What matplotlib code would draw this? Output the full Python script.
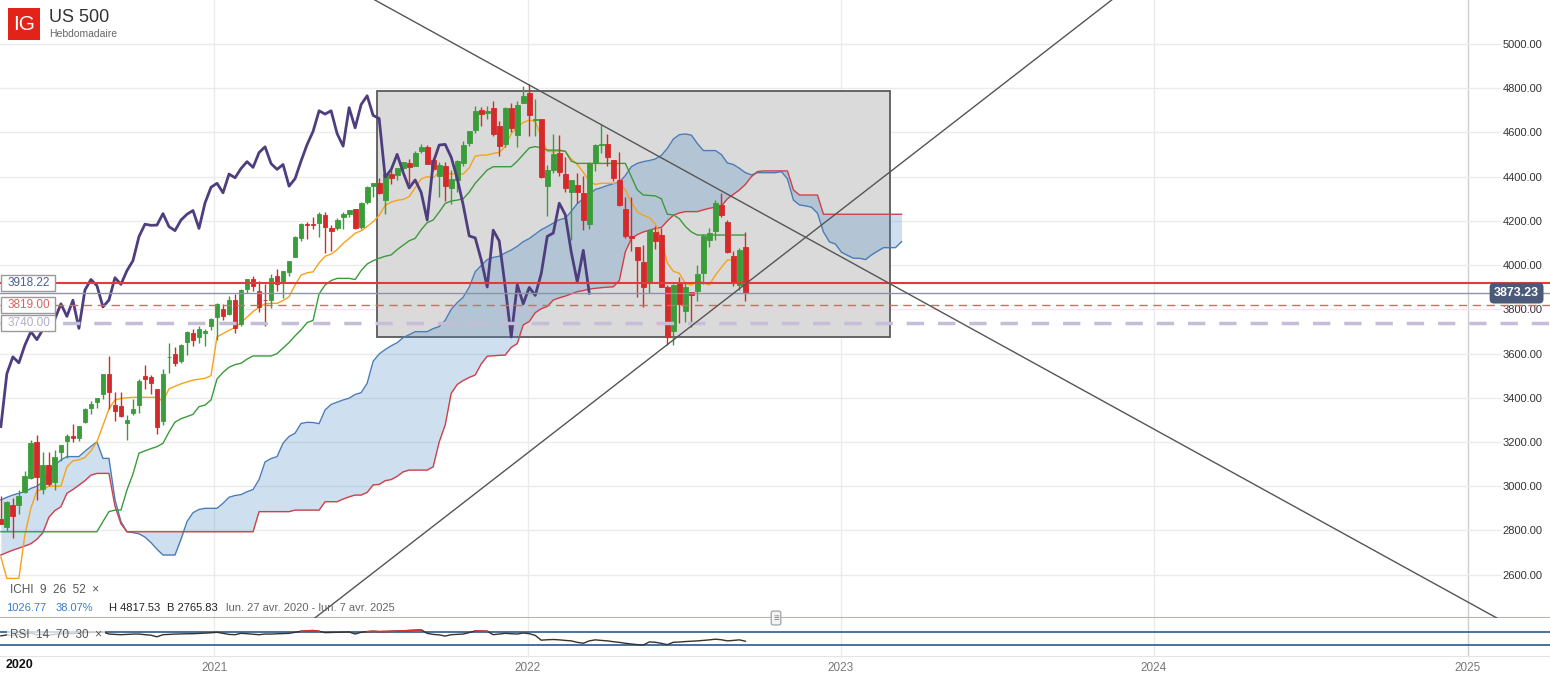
import numpy as np
import pandas as pd
import matplotlib
matplotlib.use("Agg")
import matplotlib.pyplot as plt
import matplotlib.dates as mdates
import matplotlib.transforms as mtransforms
from matplotlib.patches import Rectangle
from datetime import datetime

plt.rcParams['font.family'] = ['Liberation Sans', 'DejaVu Sans']

# weekly candles US 500, from lun. 27 avr. 2020 to lun. 12 sept. 2022
opens = [2854, 2815, 2915, 2914, 2972, 3038, 3199, 2986, 3094, 3018,
         3155, 3205, 3225, 3219, 3289, 3356, 3380, 3419, 3509, 3369,
         3364, 3285, 3333, 3366, 3500, 3493, 3441, 3296, 3583, 3600,
         3566, 3653, 3694, 3675, 3694, 3723, 3764, 3803, 3781, 3842,
         3732, 3893, 3939, 3885, 3843, 3844, 3949, 3917, 3969, 4035,
         4124, 4184, 4186, 4191, 4228, 4170, 4170, 4217, 4229, 4255,
         4174, 4285, 4356, 4372, 4296, 4410, 4406, 4438, 4462, 4450,
         4514, 4535, 4474, 4402, 4449, 4348, 4385, 4463, 4553, 4610,
         4701, 4689, 4712, 4628, 4548, 4710, 4588, 4733, 4778, 4655,
         4660, 4357, 4432, 4505, 4412, 4332, 4363, 4328, 4188, 4462,
         4541, 4547, 4474, 4385, 4256, 4130, 4081, 4013, 3920, 4152,
         4135, 3900, 3704, 3921, 3792, 3880, 3883, 3966, 4112, 4155,
         4270, 4195, 4041, 3909, 4083]
highs = [2954, 2934, 2945, 2981, 3068, 3211, 3233, 3155, 3155, 3165,
         3185, 3235, 3280, 3272, 3352, 3387, 3399, 3509, 3588, 3425,
         3428, 3320, 3393, 3485, 3550, 3502, 3441, 3530, 3646, 3629,
         3644, 3702, 3712, 3726, 3712, 3760, 3827, 3823, 3860, 3870,
         3894, 3935, 3950, 3928, 3915, 3960, 3983, 3975, 4020, 4130,
         4191, 4194, 4218, 4238, 4238, 4183, 4214, 4238, 4250, 4255,
         4286, 4356, 4372, 4394, 4415, 4430, 4441, 4468, 4480, 4514,
         4546, 4545, 4486, 4466, 4466, 4429, 4475, 4560, 4608, 4718,
         4714, 4718, 4744, 4652, 4713, 4731, 4741, 4808, 4819, 4749,
         4660, 4453, 4595, 4590, 4490, 4385, 4416, 4402, 4465, 4546,
         4637, 4593, 4474, 4513, 4308, 4308, 4082, 4090, 4160, 4178,
         4168, 3910, 3914, 3946, 3918, 3880, 3999, 4140, 4167, 4293,
         4325, 4203, 4062, 4077, 4152]
lows = [2830, 2798, 2766, 2876, 2969, 3032, 2936, 2966, 2999, 2985,
        3115, 3128, 3200, 3204, 3284, 3328, 3354, 3396, 3349, 3293,
        3313, 3209, 3323, 3329, 3441, 3418, 3234, 3279, 3512, 3543,
        3559, 3595, 3633, 3648, 3636, 3707, 3663, 3750, 3775, 3694,
        3726, 3874, 3884, 3789, 3723, 3805, 3885, 3853, 3950, 4035,
        4110, 4118, 4164, 4128, 4057, 4062, 4157, 4165, 4218, 4165,
        4165, 4275, 4310, 4321, 4233, 4368, 4385, 4429, 4367, 4447,
        4509, 4457, 4427, 4306, 4288, 4278, 4330, 4448, 4537, 4596,
        4630, 4659, 4585, 4495, 4532, 4600, 4532, 4733, 4582, 4582,
        4395, 4222, 4415, 4401, 4329, 4115, 4279, 4157, 4162, 4424,
        4507, 4450, 4381, 4268, 4124, 4062, 3858, 3811, 3875, 4074,
        3900, 3637, 3640, 3738, 3742, 3721, 3838, 3913, 4080, 4112,
        4218, 4057, 3907, 3887, 3838]
closes = [2831, 2930, 2864, 2955, 3044, 3194, 3041, 3098, 3009, 3130,
          3185, 3225, 3216, 3271, 3351, 3373, 3397, 3508, 3427, 3341,
          3319, 3298, 3348, 3477, 3484, 3465, 3270, 3509, 3585, 3558,
          3638, 3699, 3663, 3709, 3703, 3756, 3825, 3768, 3841, 3714,
          3887, 3935, 3907, 3811, 3842, 3943, 3913, 3975, 4020, 4129,
          4185, 4180, 4181, 4233, 4174, 4156, 4204, 4230, 4247, 4166,
          4281, 4352, 4370, 4327, 4412, 4395, 4437, 4468, 4442, 4509,
          4535, 4459, 4433, 4455, 4357, 4391, 4471, 4545, 4605, 4698,
          4683, 4698, 4595, 4538, 4712, 4621, 4726, 4766, 4677, 4663,
          4398, 4432, 4501, 4419, 4349, 4385, 4329, 4204, 4463, 4543,
          4546, 4488, 4393, 4272, 4132, 4123, 4024, 3901, 4158, 4109,
          3901, 3675, 3912, 3825, 3899, 3863, 3962, 4130, 4145, 4280,
          4228, 4058, 3924, 4067, 3873]

# ICHI 9 26 52
tenkan = [2680, 2583, 2583, 2583, 2780, 2900, 2980, 2985, 3000, 3000,
          3000, 3088, 3115, 3119, 3130, 3160, 3201, 3275, 3350, 3390,
          3397, 3400, 3402, 3402, 3402, 3402, 3402, 3384, 3440, 3452,
          3463, 3472, 3480, 3484, 3488, 3500, 3676, 3690, 3705, 3718,
          3740, 3765, 3790, 3810, 3825, 3827, 3827, 3840, 3857, 3910,
          3955, 3965, 3970, 4010, 4040, 4050, 4070, 4098, 4120, 4144,
          4155, 4175, 4196, 4225, 4270, 4285, 4293, 4297, 4310, 4350,
          4390, 4400, 4395, 4420, 4417, 4413, 4412, 4412, 4440, 4493,
          4497, 4498, 4505, 4510, 4535, 4595, 4625, 4645, 4656, 4650,
          4580, 4515, 4512, 4515, 4515, 4480, 4455, 4420, 4380, 4365,
          4370, 4370, 4370, 4370, 4340, 4285, 4240, 4225, 4215, 4185,
          4120, 4010, 3972, 3963, 3917, 3910, 3930, 3920, 3910, 3955,
          3990, 4023, 4023, 4040, 4068]
kijun = [2794] * 17 + [
          2840, 2885, 2892, 2892, 2983, 3055, 3149, 3160, 3170, 3179,
          3194, 3245, 3290, 3305, 3315, 3325, 3360, 3367, 3390, 3485,
          3515, 3538, 3550, 3556, 3575, 3589, 3589, 3589, 3589, 3600,
          3625, 3650, 3680, 3707, 3740, 3750, 3870, 3910, 3930, 3940,
          3940, 3940, 3935, 3975, 4005, 4020, 4031, 4040, 4046, 4070,
          4090, 4110, 4121, 4160, 4192, 4204, 4240, 4279, 4290, 4294,
          4300, 4330, 4370, 4400, 4430, 4445, 4445, 4445, 4445, 4470,
          4500, 4530, 4536, 4530, 4520, 4520, 4520, 4515, 4470] + [4460] * 9 + [
          4400, 4340, 4317, 4315, 4313, 4300, 4230, 4227, 4210, 4175,
          4150, 4136] + [4136] * 8
span_a = [2938, 2950, 2960, 2968, 2975, 2990, 3000, 3020, 3065, 3095,
          3119, 3134, 3134, 3134, 3158, 3180, 3201, 3126, 3126, 2940,
          2840, 2794, 2790, 2785, 2770, 2745, 2715, 2689, 2689, 2689,
          2760, 2840, 2880, 2895, 2900, 2900, 2900, 2923, 2950, 2958,
          2962, 2975, 2985, 3030, 3110, 3125, 3134, 3195, 3225, 3240,
          3284, 3289, 3288, 3283, 3345, 3370, 3380, 3390, 3398, 3415,
          3423, 3465, 3565, 3598, 3618, 3635, 3649, 3672, 3685, 3699,
          3699, 3699, 3713, 3722, 3750, 3800, 3830, 3855, 3900, 3970,
          3998, 4025, 4035, 4040, 4055, 4068, 4085, 4106, 4120, 4140,
          4160, 4174, 4190, 4205, 4212, 4243, 4278, 4300, 4320, 4342,
          4350, 4360, 4368, 4375, 4405, 4445, 4460, 4468, 4473, 4480,
          4496, 4528, 4570, 4590, 4593, 4588, 4550, 4518, 4518, 4518,
          4500, 4462, 4455, 4438, 4418, 4408, 4418, 4418, 4418, 4418,
          4423, 4390, 4294, 4272, 4268, 4262, 4235, 4150, 4105, 4095,
          4058, 4044, 4031, 4031, 4025, 4046, 4063, 4079, 4079, 4079,
          4106]
span_b = [2689, 2700, 2711, 2720, 2730, 2740, 2760, 2790, 2860, 2890,
          2907, 2968, 2985, 3005, 3025, 3050, 3058, 3058, 3058, 2910,
          2830] + [2794] * 22 + [2885] * 6 + [2892] * 5 + [
          2930, 2930, 2930, 2942, 2952, 2960, 2960, 2972, 3006, 3008,
          3025, 3030, 3045, 3065, 3073, 3073, 3073, 3073, 3088, 3200,
          3277, 3420, 3460, 3478, 3492, 3503, 3553, 3588, 3590, 3592,
          3593, 3628, 3645, 3730, 3745, 3785, 3803, 3813, 3842, 3852,
          3860, 3870, 3880, 3885, 3892, 3895, 3898, 3900, 3902, 3930,
          4060, 4120, 4138, 4150, 4158, 4166, 4170, 4200, 4225, 4236,
          4242, 4242, 4242, 4250, 4257, 4262, 4267, 4300, 4320, 4340,
          4365, 4400, 4423, 4426, 4426, 4426, 4426, 4426, 4340, 4317,
          4317, 4317, 4317, 4230] + [4230] * 13

# RSI 14 70 30
rsi = [58, 61, 59, 62, 64, 67, 61, 63, 60, 63,
       64, 65, 65, 66, 68, 69, 69, 70, 63.7, 62.5,
       61.6, 62.5, 63.5, 63.7, 61.6, 60, 55.2, 61.6, 62.5, 63.5,
       64, 64.5, 64.7, 65.5, 66.5, 67.5, 69, 65.8, 62.5, 61.6,
       65.8, 64.7, 63, 61.6, 63.7, 63.5, 64.5, 65, 65.8, 69,
       72.1, 73.5, 74.3, 72.1, 67.9, 68.5, 69, 69.5, 70, 63.7,
       69, 71, 72.1, 71.1, 71.5, 72.1, 72.8, 73.2, 74.5, 75.3,
       76.4, 65.8, 62.5, 61, 57.4, 61.6, 62.6, 63.7, 68, 73.2,
       72.6, 72.1, 61.6, 63.7, 65.8, 64.5, 63.7, 66.8, 64.7, 59.5,
       44.7, 46, 46.8, 45.7, 44, 42.6, 38, 35.2, 42.6, 45.7,
       44, 42.6, 40, 38, 35.2, 33, 31, 29.9, 39.4, 38.3,
       35, 30.9, 38.3, 39, 40.5, 41.5, 42.6, 44, 45.7, 47.8,
       46, 42.6, 44, 45.7, 41.5]

levels = [3918.22, 3819.00, 3740.00]
level_colors = ['#e03c3c', '#e06464', '#c6bed8']
level_text_colors = ['#4a5f8c', '#e06060', '#b4accb']
last_price = 3873.23
box_dates = ['2021-07-10', '2023-02-27']
box_prices = [3675, 4787]
trend_down = [('2021-07-07', 5199), ('2025-02-04', 2404)]
trend_up = [('2021-04-28', 2404), ('2023-11-13', 5199)]
y_ticks = [2600, 2800, 3000, 3200, 3400, 3600, 3800, 4000, 4200, 4400, 4600, 4800, 5000]
years = [2021, 2022, 2023, 2024, 2025]

W, H = 1550, 677
weeks = pd.date_range('2020-04-27', periods=len(span_a), freq='7D')
x_all = mdates.date2num(weeks.to_numpy())
n = len(closes)
x = x_all[:n]
o, h, l, c = map(np.array, (opens, highs, lows, closes))

fig = plt.figure(figsize=(W / 100, H / 100), dpi=100)
fig.patch.set_facecolor('white')
ax = fig.add_axes([0, 1 - 618 / H, 1, 618 / H])
ax2 = fig.add_axes([0, 1 - 656 / H, 1, 38 / H])

xlim = (mdates.date2num(datetime(2020, 4, 26)), mdates.date2num(datetime(2025, 4, 7)))
for a in (ax, ax2):
    a.set_xlim(*xlim)
    for s in a.spines.values():
        s.set_visible(False)
    for yr in years:
        a.axvline(mdates.date2num(datetime(yr, 1, 1)),
                  color='#cfcfcf' if yr == 2025 else '#ebebeb', lw=1, zorder=0)
ax.set_ylim(2404, 5199)
ax2.set_ylim(-4, 113)

# grid + price scale
for v in y_ticks:
    ax.axhline(v, xmin=0, xmax=1500 / W, color='#ebebeb', lw=1, zorder=0)
ax.yaxis.tick_right()
ax.set_yticks(y_ticks)
ax.set_yticklabels([f'{v:.2f}' for v in y_ticks])
ax.tick_params(axis='y', length=0, pad=-34, labelsize=8, labelcolor='#333333')
ax.set_xticks([])
ax.spines['bottom'].set_visible(True)
ax.spines['bottom'].set_color('#b5b5ad')
ax.spines['bottom'].set_linewidth(1.5)

# grey box
bx = mdates.date2num(pd.to_datetime(box_dates).to_numpy())
ax.add_patch(Rectangle((bx[0], box_prices[0]), bx[1] - bx[0], box_prices[1] - box_prices[0],
                       fc='#dadada', ec='#5a5a5a', lw=1.3, zorder=1))

# ichimoku cloud
ax.fill_between(x_all, span_a, span_b, color='#4d8dc8', alpha=0.27, lw=0, zorder=2)
ax.plot(x_all, span_a, color='#4a7db8', lw=1, zorder=3)
ax.plot(x_all, span_b, color='#d0404a', lw=1, zorder=3)
ax.plot(x, tenkan, color='#f5a31a', lw=1, zorder=4)
ax.plot(x, kijun, color='#3c9a3c', lw=1, zorder=4)

# candles
up = c >= o
cols = np.where(up, '#3a9d3a', '#d42a2a')
ax.vlines(x, l, h, colors=cols, lw=1, zorder=5)
ax.bar(x, c - o, bottom=o, width=5.6, color=cols, edgecolor=cols, lw=0.6, zorder=5)

# chikou
ax.plot(x[:n - 26], c[26:], color='#4f3e7e', lw=2, zorder=6)

# levels
ax.axhline(levels[0], color=level_colors[0], lw=1.5, zorder=6)
ax.axhline(last_price, color='#8a94a6', lw=1, zorder=6)
ax.axhline(levels[1], color=level_colors[1], lw=1, ls=(0, (6, 4)), zorder=6)
ax.axhline(levels[2], color=level_colors[2], lw=2.5, ls=(0, (5, 4)), zorder=6)

# trend lines
for (d1, p1), (d2, p2) in (trend_down, trend_up):
    ax.axline((mdates.date2num(pd.Timestamp(d1)), p1), (mdates.date2num(pd.Timestamp(d2)), p2),
              color='#555555', lw=1, zorder=7)

# level tags on the left, price tag on the right
tr = mtransforms.blended_transform_factory(ax.transAxes, ax.transData)
px_per_pt = 618 / (5199 - 2404)
half_h = 8 / px_per_pt
for v, tc in zip(levels, level_text_colors):
    ax.add_patch(Rectangle((1 / W, v - half_h), 54 / W, 2 * half_h, transform=tr,
                           fc='white', ec='#9a9a9a', lw=1, zorder=9))
    ax.text(8 / W, v, f'{v:.2f}', transform=tr, ha='left', va='center', fontsize=8.5,
            color=tc, zorder=10)
ax.text(1494 / W, last_price, f'{last_price:.2f}', transform=tr, ha='left', va='center',
        fontsize=9, color='white', fontweight='bold', zorder=10,
        bbox=dict(boxstyle='round,pad=0.35', fc='#4a5a78', ec='none'))

# RSI pane
ax2.axhline(70, color='#2a5a8c', lw=1.2, zorder=2)
ax2.axhline(30, color='#2a5a8c', lw=1.2, zorder=2)
r = np.array(rsi, dtype=float)
ax2.plot(x, r, color='#333333', lw=1, zorder=3)
ax2.plot(x, np.where(r >= 70, r, np.nan), color='#e03030', lw=1.2, zorder=4)
ax2.set_yticks([])
ax2.spines['bottom'].set_visible(True)
ax2.spines['bottom'].set_color('#e4e4e4')
ax2.set_xticks([mdates.date2num(datetime(yr, 1, 1)) for yr in years])
ax2.set_xticklabels([str(yr) for yr in years])
ax2.tick_params(axis='x', length=0, pad=4, labelsize=8.5, labelcolor='#777777')
ax2.text(10 / W, 0.55, 'RSI  14  70  30  ×', transform=ax2.transAxes, ha='left', va='center',
         fontsize=8.5, color='#555555', zorder=6,
         bbox=dict(boxstyle='square,pad=0.25', fc='white', ec='none', alpha=0.75))

# header
fig.add_artist(Rectangle((8 / W, 1 - 40 / H), 32 / W, 32 / H, transform=fig.transFigure,
                         fc='#e2231a', ec='none'))
fig.text(24 / W, 1 - 24 / H, 'IG', color='white', fontsize=15, ha='center', va='center')
fig.text(49 / W, 1 - 17 / H, 'US 500', color='#333333', fontsize=13, ha='left', va='center')
fig.text(49 / W, 1 - 34 / H, 'Hebdomadaire', color='#666666', fontsize=7.5, ha='left', va='center')

# indicator legend
fig.text(10 / W, 1 - 590 / H, 'ICHI  9  26  52  ×', color='#555555', fontsize=8.5, va='center')
fig.text(6 / W, 1 - 608 / H, '1026.77', color='#3a7fc8', fontsize=8, va='center')
fig.text(56 / W, 1 - 608 / H, '38.07%', color='#3a7fc8', fontsize=8, va='center')
fig.text(109 / W, 1 - 608 / H, 'H 4817.53', color='#222222', fontsize=8, va='center')
fig.text(167 / W, 1 - 608 / H, 'B 2765.83', color='#222222', fontsize=8, va='center')
fig.text(226 / W, 1 - 608 / H, 'lun. 27 avr. 2020 - lun. 7 avr. 2025', color='#666666',
         fontsize=8, va='center')
fig.text(776 / W, 1 - 618 / H, '≡', color='#777777', fontsize=7, ha='center', va='center',
         bbox=dict(boxstyle='round,pad=0.2', fc='#f4f4f4', ec='#999999', lw=0.8))
fig.text(6 / W, 1 - 665 / H, '2020', color='#111111', fontsize=9, fontweight='bold', va='center')

fig.savefig('out.png', dpi=100)
